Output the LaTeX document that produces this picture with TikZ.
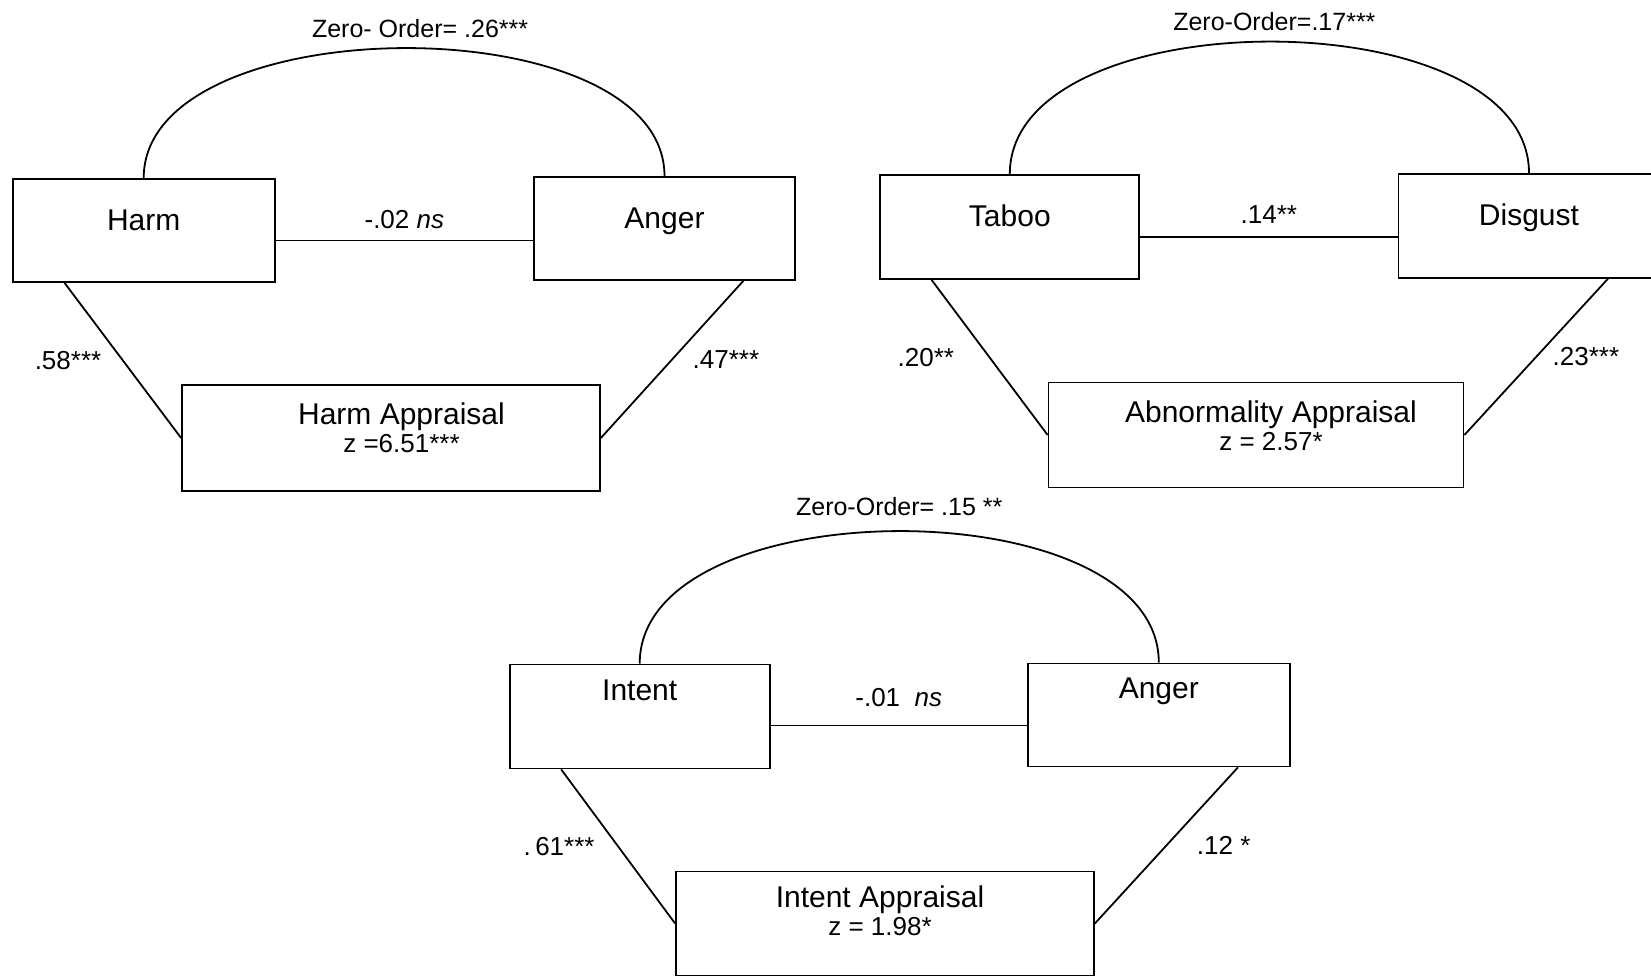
\documentclass[tikz,border=0pt]{standalone}
\usepackage{fontspec}
\setmainfont{Liberation Sans}
\usetikzlibrary{calc}

\begin{document}
\begin{tikzpicture}[x=0.5pt,y=0.5pt,line width=0.9pt,
    box/.style={draw,inner sep=0pt,text height=6pt,text depth=6pt,font=\fontsize{15}{18}\selectfont},
    apptext/.style={anchor=north,inner sep=0pt,align=center,font=\fontsize{15}{13.7}\selectfont},
    coef/.style={font=\fontsize{13}{15}\selectfont},
    zero/.style={font=\fontsize{12.5}{15}\selectfont}]
    \useasboundingbox (0,0) rectangle (1651,977);
    \clip (0,0) rectangle (1651,977);
    % harm - anger
    \node[box,minimum width=131pt,minimum height=51.5pt] (harm) at (143.7,746.5) {Harm};
    \node[box,minimum width=130.5pt,minimum height=51.5pt] (anger1) at (664.5,748.5) {Anger};
    \node[draw,minimum width=209pt,minimum height=53pt] (happ) at (391,539) {};
    \node[apptext] (happtxt) at (401.5,574.7) {Harm Appraisal\\{\fontsize{13}{13.7}\selectfont z =6.51***}};
    \draw (harm.north) to[out=90,in=90,distance=86pt] node[zero,midway,above=1.5pt,xshift=8pt] {Zero- Order= .26***} (anger1.north);
    \draw ([yshift=-5pt]harm.east) -- ([yshift=-5pt]harm.east -| anger1.west) node[coef,midway,above=2.3pt] {-.02 \textit{ns}};
    \draw ($(harm.south west)!.2!(harm.south east)$) -- (happ.west) node[coef,midway,left=7pt] {.58***};
    \draw ($(anger1.south west)!.8!(anger1.south east)$) -- (happ.east) node[coef,midway,right=6.5pt] {.47***};
    % taboo - disgust
    \node[box,minimum width=129.5pt,minimum height=52pt] (taboo) at (1009.8,750) {Taboo};
    \node[box,minimum width=130.5pt,minimum height=52pt] (disgust) at (1529,751) {Disgust};
    \node[draw,minimum width=207.5pt,minimum height=52.5pt] (abn) at (1256,542) {};
    \node[apptext] (abntxt) at (1271,576.7) {Abnormality Appraisal\\{\fontsize{13}{13.7}\selectfont z = 2.57*}};
    \draw (taboo.north) to[out=90,in=90,distance=88pt] node[zero,midway,above=1.5pt,xshift=2.5pt] {Zero-Order=.17***} (disgust.north);
    \draw ([yshift=-5pt]taboo.east) -- ([yshift=-5pt]taboo.east -| disgust.west) node[coef,midway,above=3pt] {.14**};
    \draw ($(taboo.south west)!.2!(taboo.south east)$) -- (abn.west) node[coef,midway,left=14pt] {.20**};
    \draw ($(disgust.south west)!.8!(disgust.south east)$) -- (abn.east) node[coef,midway,right=4.5pt] {.23***};
    % intent - anger
    \node[box,text depth=22pt,minimum width=130pt,minimum height=52pt] (intent) at (639.7,260.5) {Intent};
    \node[box,text depth=22pt,minimum width=131pt,minimum height=51.5pt] (anger2) at (1158.8,262) {Anger};
    \node[draw,minimum width=209pt,minimum height=52pt] (iapp) at (885,53.5) {};
    \node[apptext] (iapptxt) at (880,92) {Intent Appraisal\\{\fontsize{13}{13.7}\selectfont z = 1.98*}};
    \draw (intent.north) to[out=90,in=90,distance=88pt] node[zero,midway,above=4pt] {Zero-Order= .15 **} (anger2.north);
    \draw ([yshift=-4.5pt]intent.east) -- ([yshift=-4.5pt]intent.east -| anger2.west) node[coef,midway,above=5.5pt] {-.01\ \ \textit{ns}};
    \draw ($(intent.south west)!.2!(intent.south east)$) -- (iapp.west) node[coef,midway,left=8pt] {.\,61***};
    \draw ($(anger2.south west)!.8!(anger2.south east)$) -- (iapp.east) node[coef,midway,right=11.5pt] {.12 *};
\end{tikzpicture}
\end{document}
